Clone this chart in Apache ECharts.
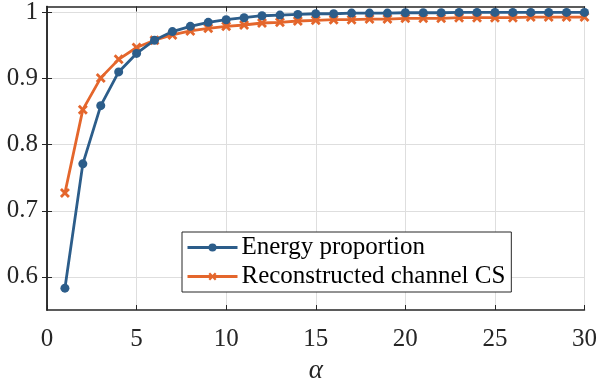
<!DOCTYPE html>
<html>
<head>
<meta charset="utf-8">
<script src="https://cdn.jsdelivr.net/npm/echarts@6/dist/echarts.min.js"></script>
<style>
  html, body { margin: 0; padding: 0; background: #fff; }
  #chart { width: 600px; height: 389px; }
</style>
</head>
<body>
<div id="chart"></div>
<script>
const alphaValues = Array.from({ length: 30 }, (_, i) => i + 1);
const energyProportion = [0.583, 0.771, 0.859, 0.910, 0.938, 0.958, 0.971, 0.979, 0.985, 0.989,
  0.992, 0.995, 0.996, 0.997, 0.998, 0.998, 0.999, 0.999, 0.999, 0.9995,
  0.9995, 0.9995, 1.0, 1.0, 1.0, 1.0, 1.0, 1.0, 1.0, 1.0];
const reconstructedCS = [0.727, 0.853, 0.901, 0.929, 0.947, 0.958, 0.966, 0.972, 0.976, 0.979,
  0.981, 0.984, 0.985, 0.987, 0.988, 0.989, 0.989, 0.990, 0.990, 0.991,
  0.991, 0.991, 0.992, 0.992, 0.992, 0.992, 0.993, 0.993, 0.993, 0.993];
const yTicks = [0.6, 0.7, 0.8, 0.9, 1.0];
const seriesNames = ['Energy proportion', 'Reconstructed channel CS'];

const BLUE = '#2c5d8a';
const ORANGE = '#e4662c';
const FONT = '"Liberation Serif", "Times New Roman", serif';
// thick "x" marker, like matlab's 'x' drawn with a wide line
const CROSS = 'path://M2,0 L5,3 L8,0 L10,2 L7,5 L10,8 L8,10 L5,7 L2,10 L0,8 L3,5 L0,2 Z';

const myChart = echarts.init(document.getElementById('chart'));

const frameAxis = {
    axisLine: { show: true, lineStyle: { color: '#262626', width: 1.5 } },
    axisTick: { show: true, inside: true, length: 5, lineStyle: { color: '#262626' } },
    axisLabel: { show: false },
    splitLine: { show: false },
};

myChart.setOption({
    animation: false,
    grid: { left: 47, right: 13, top: 5, bottom: 75 },
    xAxis: [
        {
            type: 'value',
            min: 0,
            max: 30,
            interval: 5,
            name: 'α',
            nameLocation: 'middle',
            nameGap: 47,
            nameTextStyle: { fontFamily: FONT, fontStyle: 'italic', fontSize: 27, color: '#262626' },
            axisLine: { lineStyle: { color: '#262626', width: 1.5 } },
            axisTick: { inside: true, length: 5, lineStyle: { color: '#262626' } },
            axisLabel: { fontFamily: FONT, fontSize: 25, color: '#262626', margin: 17 },
            splitLine: { show: true, lineStyle: { color: '#dedede', width: 1 } },
        },
        { type: 'value', position: 'top', min: 0, max: 30, interval: 5, ...frameAxis },
    ],
    yAxis: [
        {
            type: 'value',
            min: 0.55,
            max: 1.009,
            axisLine: { show: true, lineStyle: { color: '#262626', width: 1.5 } },
            axisTick: { show: true, inside: true, length: 5, customValues: yTicks, lineStyle: { color: '#262626' } },
            axisLabel: { fontFamily: FONT, fontSize: 25, color: '#262626', margin: 9, customValues: yTicks },
            splitLine: { show: true, lineStyle: { color: '#dedede', width: 1 } },
        },
        {
            type: 'value',
            position: 'right',
            min: 0.55,
            max: 1.009,
            ...frameAxis,
            axisTick: { show: true, inside: true, length: 5, customValues: yTicks, lineStyle: { color: '#262626' } },
        },
    ],
    legend: {
        orient: 'vertical',
        left: 182,
        top: 232,
        itemWidth: 50,
        itemHeight: 10,
        itemGap: 4,
        padding: [3, 6, 3, 4],
        borderColor: '#262626',
        borderWidth: 1,
        backgroundColor: '#fff',
        lineStyle: { width: 3 },
        textStyle: { fontFamily: FONT, fontSize: 25, color: '#000', padding: [0, 0, 0, -1] },
        data: seriesNames,
    },
    series: [
        {
            name: seriesNames[0],
            type: 'line',
            data: alphaValues.map((a, i) => [a, energyProportion[i]]),
            symbol: 'circle',
            symbolSize: 9,
            lineStyle: { color: BLUE, width: 2.8 },
            itemStyle: { color: BLUE },
            z: 3,
        },
        {
            name: seriesNames[1],
            type: 'line',
            data: alphaValues.map((a, i) => [a, reconstructedCS[i]]),
            symbol: CROSS,
            symbolSize: 10,
            lineStyle: { color: ORANGE, width: 2.8 },
            itemStyle: { color: ORANGE },
            z: 2,
        },
    ],
});
</script>
</body>
</html>
